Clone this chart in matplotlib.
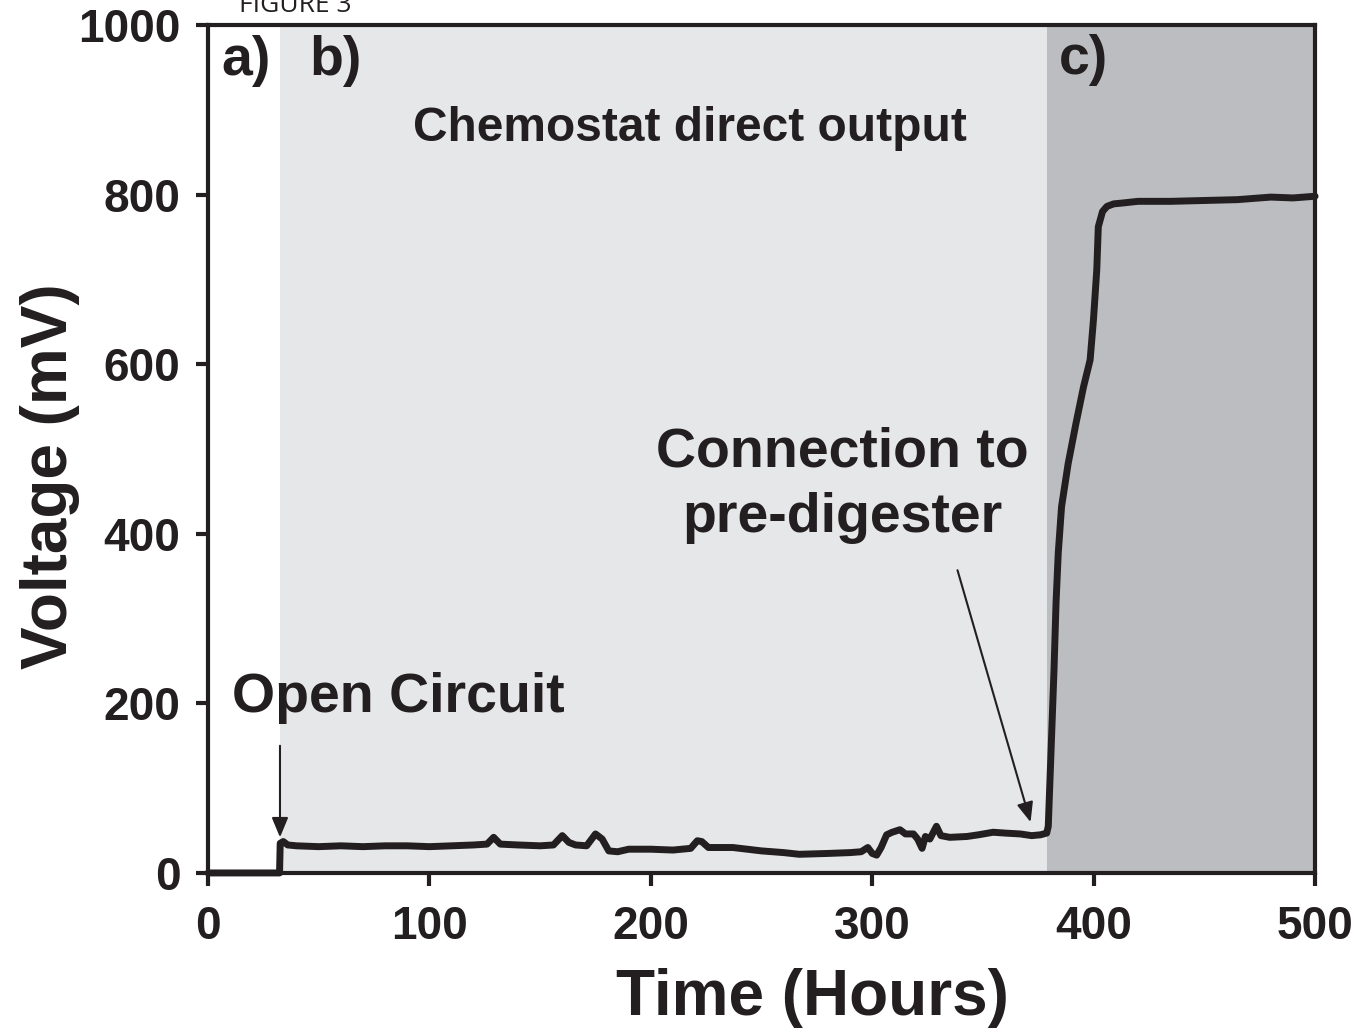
import matplotlib.pyplot as plt

# voltage trace (hours, mV)
hours = [0, 32.3, 32.6, 34, 36, 40, 50, 60, 70, 80, 90, 100, 110, 120, 126, 129, 132,
         140, 150, 156, 160, 163, 166, 171, 175, 178, 181, 185, 190, 200, 210, 218, 221,
         223, 226, 230, 237, 250, 260, 267, 280, 290, 295, 298, 300, 302, 304, 306.5,
         309, 312.5, 315, 318.6, 320.5, 322.5, 324, 326, 329, 331, 335, 342.8, 348,
         354.6, 360, 366.8, 372, 376, 378.8, 379.5, 380.6, 382.1, 383, 384, 385.5,
         388.5, 392, 395.4, 398.4, 399.9, 401.4, 402.1, 404, 406, 409, 413, 420,
         435, 450, 465, 480, 490, 500]
voltage = [0, 0, 35, 37, 33, 32, 31, 32, 31, 32, 32, 31, 32, 33, 34, 42, 34,
           33, 32, 33, 44, 36, 33, 32, 46, 40, 26, 25, 28, 28, 27, 29, 38,
           37, 30, 30, 30, 26, 24, 22, 23, 24, 25, 30, 23, 21, 30, 45,
           48, 51, 46, 46, 40, 29, 43, 40, 55, 44, 42, 43, 45,
           48, 47, 46, 44, 45, 47, 55, 133, 240, 318, 377, 432,
           483, 530, 573, 605, 652, 711, 762, 780, 786, 789, 790, 792,
           792, 793, 794, 797, 796, 798]

# shaded regions (start, end, colour)
regions = [(32.5, 379, '#e6e7e8'), (379, 500, '#bcbdc0')]

ink = '#231f20'
plt.rcParams['font.family'] = ['Liberation Sans', 'DejaVu Sans']
plt.rcParams['font.weight'] = 'bold'

fig = plt.figure(figsize=(13.57, 10.31), dpi=100)
ax = fig.add_axes([0.1533, 0.1533, 0.9691 - 0.1533, 0.9758 - 0.1533])

for x0, x1, c in regions:
    ax.axvspan(x0, x1, color=c, lw=0, zorder=0)

ax.plot(hours, voltage, color=ink, lw=5, solid_joinstyle='round',
        solid_capstyle='round', clip_on=False, zorder=5)

ax.set_xlim(0, 500)
ax.set_ylim(0, 1000)
ax.set_xticks([0, 100, 200, 300, 400, 500])
ax.set_yticks([0, 200, 400, 600, 800, 1000])
ax.tick_params(axis='both', direction='out', length=9, width=3, color=ink,
               labelsize=33, labelcolor=ink, top=False, right=False)
ax.tick_params(axis='x', pad=14)
ax.tick_params(axis='y', pad=11)
for s in ax.spines.values():
    s.set_linewidth(3)
    s.set_color(ink)
    s.set_zorder(6)

ax.set_xlabel('Time (Hours)', fontsize=46, fontweight='bold', color=ink)
ax.set_ylabel('Voltage (mV)', fontsize=46, fontweight='bold', color=ink)
ax.xaxis.set_label_coords(0.5456, -0.112)
ax.yaxis.set_label_coords(-0.116, 0.468)

ax.text(17, 957, 'a)', fontsize=40, ha='center', va='center', color=ink)
ax.text(57.5, 957, 'b)', fontsize=40, ha='center', va='center', color=ink)
ax.text(395.5, 959, 'c)', fontsize=40, ha='center', va='center', color=ink)
ax.text(217.5, 878, 'Chemostat direct output', fontsize=34.5, ha='center', va='center', color=ink)
ax.text(286.5, 496, 'Connection to', fontsize=40, ha='center', va='center', color=ink)
ax.text(286.5, 418, 'pre-digester', fontsize=40, ha='center', va='center', color=ink)
ax.text(86, 206, 'Open Circuit', fontsize=40, ha='center', va='center', color=ink)

ax.annotate('', xy=(32.5, 42), xytext=(32.5, 150),
            arrowprops=dict(arrowstyle='-|>,head_length=1.2,head_width=0.5',
                            color=ink, lw=1.5, shrinkA=0, shrinkB=0))
ax.annotate('', xy=(371.5, 60), xytext=(338.5, 357),
            arrowprops=dict(arrowstyle='-|>,head_length=1.2,head_width=0.5',
                            color=ink, lw=1.5, shrinkA=0, shrinkB=0))

fig.text(0.2175, 0.9885, 'FIGURE 3', fontsize=19, fontweight='normal',
         family='Open Sans', ha='center', va='baseline', color=ink)

fig.savefig('out.png', dpi=100)
